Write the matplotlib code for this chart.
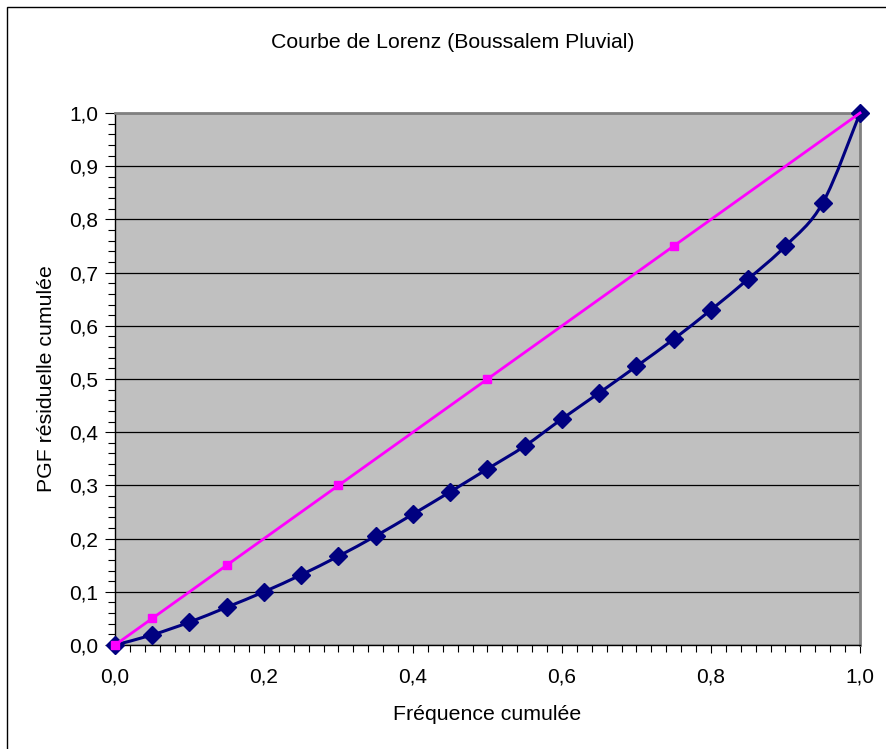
import numpy as np
import matplotlib.pyplot as plt
from matplotlib.path import Path
from matplotlib.patches import PathPatch, Rectangle
from matplotlib.ticker import MultipleLocator

plt.rcParams['font.family'] = ['Liberation Sans', 'DejaVu Sans']

# courbe de Lorenz
freq = [0.0, 0.05, 0.10, 0.15, 0.20, 0.25, 0.30, 0.35, 0.40, 0.45, 0.50,
        0.55, 0.60, 0.65, 0.70, 0.75, 0.80, 0.85, 0.90, 0.95, 1.0]
pgf = [0.0, 0.019, 0.043, 0.071, 0.100, 0.132, 0.167, 0.205, 0.246, 0.288, 0.331,
       0.374, 0.425, 0.474, 0.524, 0.575, 0.630, 0.688, 0.750, 0.831, 1.0]

# droite d'egalite
eq_x = [0.0, 0.05, 0.15, 0.30, 0.50, 0.75, 1.0]
eq_y = [0.0, 0.05, 0.15, 0.30, 0.50, 0.75, 1.0]

xticks = [0.0, 0.2, 0.4, 0.6, 0.8, 1.0]
xtick_labels = ['0,0', '0,2', '0,4', '0,6', '0,8', '1,0']
yticks = [0.0, 0.1, 0.2, 0.3, 0.4, 0.5, 0.6, 0.7, 0.8, 0.9, 1.0]
ytick_labels = ['0,0', '0,1', '0,2', '0,3', '0,4', '0,5', '0,6', '0,7', '0,8', '0,9', '1,0']

W, H = 887, 749


def smooth_path(xs, ys):
    # courbe lissee facon Excel (Bezier cubiques)
    p = np.column_stack([xs, ys])
    n = len(p)
    verts = [p[0]]
    codes = [Path.MOVETO]
    for i in range(n - 1):
        p0 = p[max(i - 1, 0)]
        p1 = p[i]
        p2 = p[i + 1]
        p3 = p[min(i + 2, n - 1)]
        c1 = p1 + (p2 - p0) / 6.
        c2 = p2 - (p3 - p1) / 6.
        verts += [c1, c2, p2]
        codes += [Path.CURVE4] * 3
    return Path(verts, codes)


fig = plt.figure(figsize=(W / 100, H / 100), dpi=100)
ax = fig.add_axes([115 / W, 1 - 645 / H, 745 / W, 532 / H])
ax.set_facecolor('#C0C0C0')

ax.add_patch(PathPatch(smooth_path(freq, pgf), fill=False, edgecolor='#000080',
                       lw=2.2, zorder=3, capstyle='round'))
ax.plot(freq, pgf, ls='none', marker='D', ms=9, color='#000080', zorder=4,
        clip_on=False)
ax.plot(eq_x, eq_y, color='#FF00FF', lw=2.0, marker='s', ms=5.5,
        markevery=slice(0, -1), zorder=5, clip_on=False)

ax.set_xlim(0, 1)
ax.set_ylim(0, 1)
ax.set_xticks(xticks)
ax.set_xticklabels(xtick_labels)
ax.set_yticks(yticks)
ax.set_yticklabels(ytick_labels)
ax.xaxis.set_minor_locator(MultipleLocator(0.02))
ax.yaxis.set_minor_locator(MultipleLocator(0.02))
ax.tick_params(axis='both', which='both', direction='out', color='black',
               labelsize=15, width=0.8)
ax.tick_params(axis='x', which='major', length=6, pad=10)
ax.tick_params(axis='x', which='minor', length=5)
ax.tick_params(axis='y', which='major', length=7, pad=5)
ax.tick_params(axis='y', which='minor', length=5)
ax.grid(axis='y', which='major', color='black', lw=0.9)
ax.set_axisbelow(True)

for s in ['top', 'right']:
    ax.spines[s].set_color('#808080')
    ax.spines[s].set_linewidth(2)
for s in ['left', 'bottom']:
    ax.spines[s].set_color('black')
    ax.spines[s].set_linewidth(1)

fig.text(453 / W, 1 - 42 / H, 'Courbe de Lorenz (Boussalem Pluvial)',
         ha='center', va='center', fontsize=15.3)
fig.text(487 / W, 1 - 714 / H, 'Fréquence cumulée', ha='center', va='center',
         fontsize=15.3)
fig.text(47 / W, 1 - 379 / H, 'PGF résiduelle cumulée', ha='center', va='center',
         rotation=90, fontsize=15.3)

fig.patches.append(Rectangle((7.5 / W, -0.1), 2, 1.1 - 7.5 / H, transform=fig.transFigure,
                             fill=False, edgecolor='black', lw=1, figure=fig))

fig.savefig('out.png', dpi=100)
